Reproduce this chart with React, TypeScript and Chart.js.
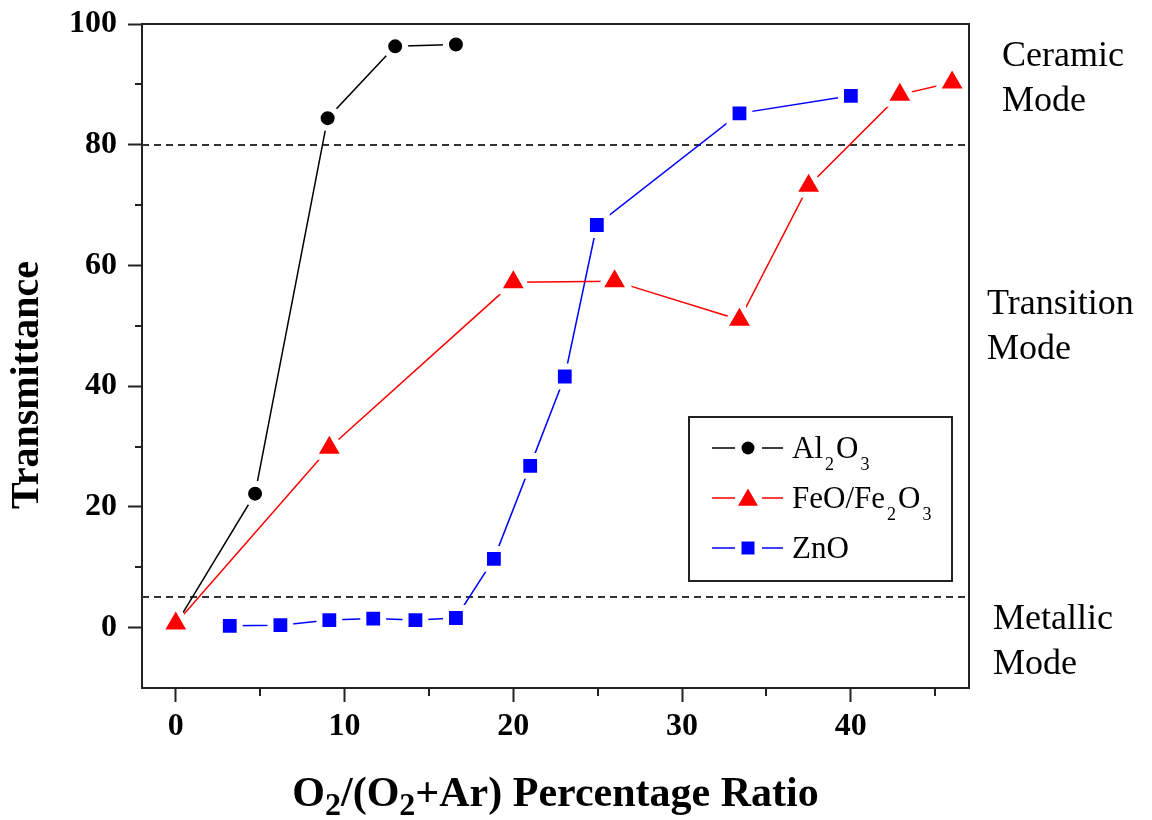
import React, { useEffect, useRef } from 'react';
import { Chart, registerables } from 'chart.js';

Chart.register(...registerables);

// ---- data ----
const al2o3X = [0, 4.7, 9.0, 13.0, 16.6];
const al2o3Y = [0.5, 22.2, 84.4, 96.3, 96.6];
const feoX = [0, 9.1, 20.0, 26.0, 33.4, 37.5, 42.9, 46.0];
const feoY = [0.7, 29.8, 57.2, 57.4, 51.0, 73.2, 88.3, 90.3];
const znoX = [3.2, 6.2, 9.1, 11.7, 14.2, 16.6, 18.85, 21.0, 23.05, 24.95, 33.4, 40.0];
const znoY = [0.3, 0.4, 1.25, 1.5, 1.25, 1.6, 11.4, 26.8, 41.6, 66.7, 85.2, 88.1];

const seriesLabels = ['Al_2O_3', 'FeO/Fe_2O_3', 'ZnO'];
const seriesColors = ['#000000', '#ff0000', '#0000ff'];
const seriesMarkers = ['circle', 'triangle', 'rect'];

const xTicks = [0, 10, 20, 30, 40];
const xMinorTicks = [5, 15, 25, 35, 45];
const yTicks = [0, 20, 40, 60, 80, 100];
const yMinorTicks = [10, 30, 50, 70, 90];
const refLines = [80, 5];
const modeLabels = [
  ['Ceramic', 'Mode'],
  ['Transition', 'Mode'],
  ['Metallic', 'Mode'],
];
const xTitle = 'O_2/(O_2+Ar) Percentage Ratio';
const yTitle = 'Transmittance';

const SERIF = "'Liberation Serif', 'Times New Roman', serif";

function toPts(xs: number[], ys: number[]) {
  return xs.map((x, i) => ({ x, y: ys[i] }));
}

function parseRich(s: string): [string, boolean][] {
  const out: [string, boolean][] = [];
  const parts = s.split(/(_\d)/);
  for (const p of parts) {
    if (!p) continue;
    if (p.startsWith('_')) out.push([p.slice(1), true]);
    else out.push([p, false]);
  }
  return out;
}

function drawRich(
  ctx: CanvasRenderingContext2D,
  text: string,
  x: number,
  y: number,
  size: number,
  subSize: number,
  subOffset: number,
  weight: string,
  align: 'left' | 'center',
  subGap = 0
) {
  const parts = parseRich(text);
  const font = (s: number) => `${weight} ${s}px ${SERIF}`;
  let total = 0;
  for (const [t, sub] of parts) {
    ctx.font = font(sub ? subSize : size);
    total += ctx.measureText(t).width + (sub ? 2 * subGap : 0);
  }
  let cx = align === 'center' ? x - total / 2 : x;
  ctx.textAlign = 'left';
  ctx.textBaseline = 'alphabetic';
  for (const [t, sub] of parts) {
    ctx.font = font(sub ? subSize : size);
    if (sub) cx += subGap;
    ctx.fillText(t, cx, sub ? y + subOffset : y);
    cx += ctx.measureText(t).width + (sub ? subGap : 0);
  }
}

function drawMarker(ctx: CanvasRenderingContext2D, style: string, x: number, y: number, color: string) {
  ctx.fillStyle = color;
  ctx.beginPath();
  if (style === 'circle') {
    ctx.arc(x, y, 6.5, 0, Math.PI * 2);
  } else if (style === 'triangle') {
    const r = 11.5;
    ctx.moveTo(x, y - r);
    ctx.lineTo(x + r * Math.sin((2 * Math.PI) / 3), y - r * Math.cos((2 * Math.PI) / 3));
    ctx.lineTo(x + r * Math.sin((4 * Math.PI) / 3), y - r * Math.cos((4 * Math.PI) / 3));
    ctx.closePath();
  } else {
    ctx.rect(x - 6.5, y - 6.5, 13, 13);
  }
  ctx.fill();
}

const overlayPlugin = {
  id: 'overlay',
  beforeDatasetsDraw(chart: any) {
    const { ctx, chartArea: a, scales } = chart;
    const ys = scales.y;
    ctx.save();
    ctx.strokeStyle = '#333333';
    ctx.lineWidth = 2;
    ctx.setLineDash([7, 5]);
    for (const v of refLines) {
      const py = Math.round(ys.getPixelForValue(v));
      ctx.beginPath();
      ctx.moveTo(a.left, py);
      ctx.lineTo(a.right, py);
      ctx.stroke();
    }
    ctx.restore();
  },
  afterDraw(chart: any) {
    const { ctx, chartArea: a, scales } = chart;
    const xs = scales.x;
    const ys = scales.y;
    ctx.save();
    // top and right frame
    ctx.strokeStyle = '#222222';
    ctx.lineWidth = 2;
    ctx.beginPath();
    ctx.moveTo(a.left - 1, a.top);
    ctx.lineTo(a.right, a.top);
    ctx.lineTo(a.right, a.bottom + 1);
    ctx.stroke();
    // minor ticks
    ctx.beginPath();
    for (const v of xMinorTicks) {
      const px = Math.round(xs.getPixelForValue(v));
      ctx.moveTo(px, a.bottom);
      ctx.lineTo(px, a.bottom + 8);
    }
    for (const v of yMinorTicks) {
      const py = Math.round(ys.getPixelForValue(v));
      ctx.moveTo(a.left, py);
      ctx.lineTo(a.left - 7, py);
    }
    ctx.stroke();

    // legend
    const bx = 689, by = 417, bw = 263, bh = 164;
    ctx.fillStyle = '#ffffff';
    ctx.fillRect(bx, by, bw, bh);
    ctx.strokeStyle = '#222222';
    ctx.lineWidth = 2;
    ctx.strokeRect(bx, by, bw, bh);
    seriesLabels.forEach((lab, i) => {
      const ry = 448 + i * 50;
      ctx.strokeStyle = seriesColors[i];
      ctx.lineWidth = 1.5;
      ctx.beginPath();
      ctx.moveTo(712, ry);
      ctx.lineTo(735, ry);
      ctx.moveTo(762, ry);
      ctx.lineTo(783, ry);
      ctx.stroke();
      drawMarker(ctx, seriesMarkers[i], 748, ry + (seriesMarkers[i] === 'triangle' ? 2 : 0), seriesColors[i]);
      ctx.fillStyle = '#000000';
      drawRich(ctx, lab, 792, ry + 10, 31, 18, 12, 'normal', 'left', 2);
    });

    // mode labels
    ctx.fillStyle = '#000000';
    ctx.font = `normal 36px ${SERIF}`;
    ctx.textAlign = 'left';
    ctx.textBaseline = 'middle';
    const modePos = [
      [1002, 57],
      [987, 305],
      [993, 620],
    ];
    modeLabels.forEach((lines, i) => {
      lines.forEach((t, j) => {
        ctx.fillText(t, modePos[i][0], modePos[i][1] + j * 45);
      });
    });

    // axis titles
    ctx.fillStyle = '#000000';
    drawRich(ctx, xTitle, (a.left + a.right) / 2, 806, 42, 32, 9, 'bold', 'center');
    ctx.save();
    ctx.translate(28, 385);
    ctx.rotate(-Math.PI / 2);
    ctx.font = `bold 40px ${SERIF}`;
    ctx.textAlign = 'center';
    ctx.textBaseline = 'middle';
    ctx.fillText(yTitle, 0, 0);
    ctx.restore();

    ctx.restore();
  },
};

export default function App() {
  const ref = useRef<HTMLCanvasElement | null>(null);
  useEffect(() => {
    if (!ref.current) return;
    const tickFont = { family: SERIF, size: 32, weight: 'bold' as const };
    const chart = new Chart(ref.current, {
      type: 'line',
      data: {
        datasets: [
          {
            label: 'Al2O3',
            data: toPts(al2o3X, al2o3Y),
            borderColor: seriesColors[0],
            backgroundColor: seriesColors[0],
            borderWidth: 1.5,
            pointStyle: 'circle',
            pointRadius: 10,
            pointBackgroundColor: seriesColors[0],
            pointBorderColor: '#ffffff',
            pointBorderWidth: 6,
            order: 1,
          },
          {
            label: 'FeO/Fe2O3',
            data: toPts(feoX, feoY),
            borderColor: seriesColors[1],
            backgroundColor: seriesColors[1],
            borderWidth: 1.5,
            pointStyle: 'triangle',
            pointRadius: 18,
            pointBackgroundColor: seriesColors[1],
            pointBorderColor: '#ffffff',
            pointBorderWidth: 6,
            order: 0,
          },
          {
            label: 'ZnO',
            data: toPts(znoX, znoY),
            borderColor: seriesColors[2],
            backgroundColor: seriesColors[2],
            borderWidth: 1.5,
            pointStyle: 'rect',
            pointRadius: 14,
            pointBackgroundColor: seriesColors[2],
            pointBorderColor: '#ffffff',
            pointBorderWidth: 6,
            order: 2,
          },
        ],
      },
      options: {
        responsive: false,
        maintainAspectRatio: false,
        devicePixelRatio: 1,
        animation: false,
        events: [],
        layout: { padding: { left: 0, top: 20, right: 183, bottom: 0 } },
        plugins: { legend: { display: false }, tooltip: { enabled: false } },
        elements: { line: { tension: 0 } },
        scales: {
          x: {
            type: 'linear',
            min: -2,
            max: 47,
            afterBuildTicks: (s: any) => {
              s.ticks = xTicks.map((v) => ({ value: v }));
            },
            afterFit: (s: any) => {
              s.height = 132;
              s.paddingLeft = 0;
              s.paddingRight = 0;
            },
            ticks: { font: tickFont, color: '#000000', padding: 6, callback: (v: any) => String(v) },
            grid: {
              display: true,
              drawOnChartArea: false,
              drawTicks: true,
              tickLength: 14,
              tickWidth: 2,
              tickColor: '#222222',
            },
            border: { display: true, color: '#222222', width: 2 },
          },
          y: {
            type: 'linear',
            min: -10,
            max: 100,
            afterBuildTicks: (s: any) => {
              s.ticks = yTicks.map((v) => ({ value: v }));
            },
            afterFit: (s: any) => {
              s.width = 142;
              s.paddingTop = 0;
              s.paddingBottom = 0;
            },
            ticks: { font: tickFont, color: '#000000', padding: 11, callback: (v: any) => String(v) },
            grid: {
              display: true,
              drawOnChartArea: false,
              drawTicks: true,
              tickLength: 14,
              tickWidth: 2,
              tickColor: '#222222',
            },
            border: { display: true, color: '#222222', width: 2 },
          },
        },
      },
      plugins: [overlayPlugin],
    });
    return () => chart.destroy();
  }, []);

  return (
    <div style={{ position: 'absolute', left: 0, top: 0, width: 1152, height: 820, background: '#ffffff' }}>
      <canvas ref={ref} width={1152} height={820} style={{ width: 1152, height: 820, display: 'block' }} />
    </div>
  );
}
